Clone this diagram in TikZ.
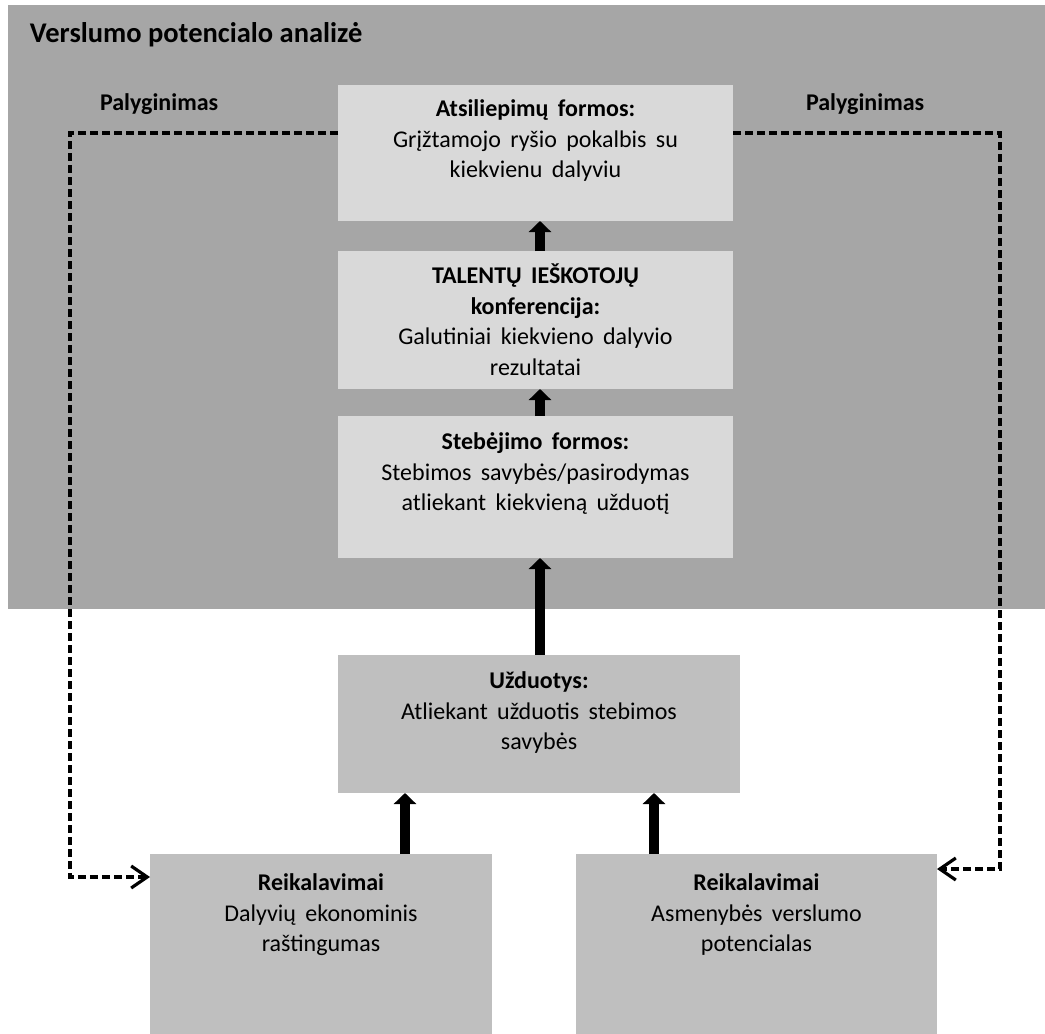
\documentclass[tikz,border=0pt]{standalone}
\usepackage{fontspec}
\setmainfont{Carlito}
\usetikzlibrary{arrows.meta}
\definecolor{panelgray}{HTML}{A6A6A6}
\definecolor{lightbox}{HTML}{D9D9D9}
\definecolor{midbox}{HTML}{BFBFBF}
% body text of the boxes: 24pt with slightly open word spacing
\newcommand\boxfont{\fontsize{24}{30.5}\selectfont\spaceskip=0.39em\relax}

\begin{document}
\begin{tikzpicture}[x=1pt,y=-1pt,
  every node/.style={inner sep=0pt, outer sep=0pt},
  upperbox/.style={fill=lightbox, minimum width=395pt},
  lowerbox/.style={fill=midbox},
  boxtext/.style={align=center, anchor=north, font=\boxfont},
  sidelabel/.style={anchor=base west, font=\fontsize{24}{29}\selectfont\bfseries},
  up/.style={line width=10pt, -{Triangle[width=22pt,length=11pt]}},
  compare/.style={line width=3.2pt, dash pattern=on 8pt off 4pt,
    -{Straight Barb[length=16pt,width=22pt]}}
]
\useasboundingbox (0,0) rectangle (1045,1034);

% analysis zone
\node[fill=panelgray, minimum width=1037pt, minimum height=604pt, anchor=north west]
  (zone) at (8,5) {};
\node[anchor=base west, font=\fontsize{28.5}{33}\selectfont\bfseries] (title) at (30,42)
  {Verslumo potencialo analizė};
\node[sidelabel] (cmpL) at (100,110) {Palyginimas};
\node[sidelabel] (cmpR) at (806,110) {Palyginimas};

% boxes
\node[upperbox, minimum height=136pt] (b1) at (535.5,153) {};
\node[upperbox, minimum height=138pt] (b2) at (535.5,320) {};
\node[upperbox, minimum height=142pt] (b3) at (535.5,487) {};
\node[lowerbox, minimum width=402pt, minimum height=138pt] (b4) at (539,724) {};
\node[lowerbox, minimum width=342pt, minimum height=180pt] (b5) at (321,944) {};
\node[lowerbox, minimum width=361pt, minimum height=180pt] (b6) at (756.5,944) {};

% box texts
\node[boxtext] (t1) at (535.5,95.3)
  {\strut\textbf{Atsiliepimų formos:}\\Grįžtamojo ryšio pokalbis su\\kiekvienu dalyviu};
\node[boxtext] (t2) at (535.5,262.5)
  {\strut\textbf{TALENTŲ IEŠKOTOJŲ}\\\textbf{konferencija:}\\Galutiniai kiekvieno dalyvio\\rezultatai};
\node[boxtext] (t3) at (535.5,428.5)
  {\strut\textbf{Stebėjimo formos:}\\Stebimos savybės/pasirodymas\\atliekant kiekvieną užduotį};
\node[boxtext] (t4) at (539,667.5)
  {\strut\textbf{Užduotys:}\\Atliekant užduotis stebimos\\savybės};
\node[boxtext] (t5) at (321,869.5)
  {\strut\textbf{Reikalavimai}\\Dalyvių ekonominis\\raštingumas};
\node[boxtext] (t6) at (756.5,869.5)
  {\strut\textbf{Reikalavimai}\\Asmenybės verslumo\\potencialas};

% flow arrows
\draw[up] ([xshift=4.5pt]b2.north) -- ([xshift=4.5pt]b2.north |- b1.south);
\draw[up] ([xshift=4.5pt]b3.north) -- ([xshift=4.5pt]b3.north |- b2.south);
\draw[up] ([xshift=1pt]b4.north) -- ([xshift=1pt]b4.north |- b3.south);
\draw[up] ([xshift=84pt]b5.north) -- ([xshift=84pt]b5.north |- b4.south);
\draw[up] ([xshift=-102.5pt]b6.north) -- ([xshift=-102.5pt]b6.north |- b4.south);

% comparison loops
\coordinate (ltop) at (70,133);
\coordinate (lbot) at (70,877);
\coordinate (rtop) at (1000,133);
\coordinate (rbot) at (1000,869);
\draw[compare] (b1.west |- ltop) -- (ltop) -- (lbot) -- (b5.west |- lbot);
\draw[compare] (b1.east |- rtop) -- (rtop) -- (rbot) -- (b6.east |- rbot);
\end{tikzpicture}
\end{document}
